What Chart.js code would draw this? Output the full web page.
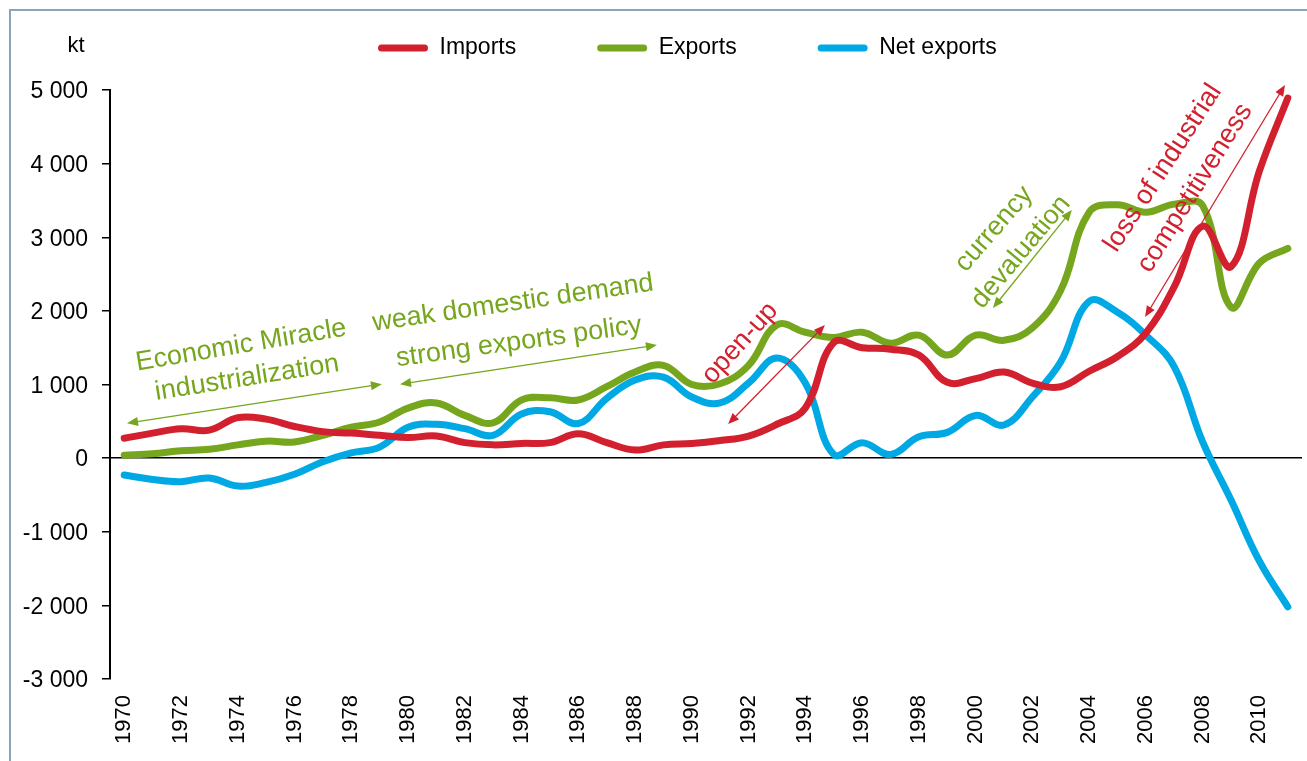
<!DOCTYPE html>
<html><head><meta charset="utf-8">
<script src="https://cdn.jsdelivr.net/npm/chart.js@4.4.1/dist/chart.umd.min.js"></script>
<style>html,body{margin:0;padding:0;background:#fff;overflow:hidden}#wrap{width:1307px;height:761px;position:relative}</style>
</head><body><div id="wrap"><canvas id="c"></canvas></div>
<script>
const years = ['1970','1971','1972','1973','1974','1975','1976','1977','1978','1979','1980','1981','1982','1983','1984','1985','1986','1987','1988','1989','1990','1991','1992','1993','1994','1995','1996','1997','1998','1999','2000','2001','2002','2003','2004','2005','2006','2007','2008','2009','2010','2011'];
const imports = [270,340,400,380,550,530,430,360,340,310,280,300,210,180,200,210,330,210,110,180,200,240,300,460,680,1570,1500,1480,1400,1030,1080,1170,1020,970,1180,1380,1700,2330,3150,2600,3900,4890];
const exportsV = [40,60,100,120,180,230,220,310,420,490,680,750,580,480,790,820,790,970,1170,1260,1000,1010,1260,1810,1710,1640,1710,1560,1670,1400,1670,1600,1770,2280,3340,3440,3340,3450,3430,2050,2650,2850];
const netExports = [-230,-290,-320,-270,-380,-330,-220,-50,70,150,420,460,400,310,600,630,470,810,1060,1100,830,750,1020,1360,1020,50,210,50,290,350,580,450,830,1310,2130,1980,1670,1240,220,-570,-1400,-2020];
const seriesNames = ['Imports','Exports','Net exports'];
const seriesColors = ['#D2202E','#76A61D','#00A9E4'];
const yTicks = [-3000,-2000,-1000,0,1000,2000,3000,4000,5000];
const unitLabel = 'kt';
// annotations in data space: [categoryIndex, value]
const annoTexts = [
  {text:'Economic Miracle', at:[4.12,1530], angle:-9.5, color:'#76A61D'},
  {text:'industrialization', at:[4.33,1087], angle:-9, color:'#76A61D'},
  {text:'weak domestic demand', at:[13.7,2105], angle:-8.2, color:'#76A61D'},
  {text:'strong exports policy', at:[13.91,1576], angle:-7.8, color:'#76A61D'},
  {text:'open-up', at:[21.7,1562], angle:-48, color:'#D2202E'},
  {text:'currency', at:[30.65,3111], angle:-49, color:'#76A61D'},
  {text:'devaluation', at:[31.6,2799], angle:-50, color:'#76A61D'},
  {text:'loss of industrial', at:[36.6,3940], angle:-57, color:'#D2202E'},
  {text:'competitiveness', at:[37.73,3668], angle:-58, color:'#D2202E'}
];
const annoArrows = [
  {from:[0.10,475], to:[9.08,1005], color:'#76A61D'},
  {from:[9.72,1005], to:[18.77,1535], color:'#76A61D'},
  {from:[21.28,462], to:[24.69,1807], color:'#D2202E'},
  {from:[30.61,2038], to:[33.39,3370], color:'#76A61D'},
  {from:[35.97,1916], to:[40.9,5068], color:'#D2202E'}
];

const FONT = "'Liberation Sans', Arial, sans-serif";
const LEGEND_START_X = 378;

function fmt(v){
  const a = Math.abs(v);
  const s = String(a).replace(/\B(?=(\d{3})+(?!\d))/g,' ');
  return (v<0?'-':'') + s;
}

const decor = {
  id:'decor',
  beforeLayout(chart){
    const lg = chart.legend;
    if (lg && !lg._patched){
      const orig = lg.fit.bind(lg);
      lg.fit = function(){ orig(); this.height = 134.5; };
      lg._patched = true;
    }
  },
  afterLayout(chart){
    const lg = chart.legend;
    if (lg){
      const pad = lg.options.labels.padding;
      const w = lg.width;
      lg.left = LEGEND_START_X - pad;
      lg.right = lg.left + w;
    }
  },
  beforeDraw(chart){
    const ctx = chart.ctx;
    ctx.save();
    ctx.fillStyle = '#fff';
    ctx.fillRect(0,0,chart.width,chart.height);
    ctx.strokeStyle = '#8AA4BA';
    ctx.lineWidth = 2;
    ctx.strokeRect(10,10,chart.width+50,chart.height+50);
    ctx.restore();
  },
  afterDatasetsDraw(chart){
    const ctx = chart.ctx, xs = chart.scales.x, ys = chart.scales.y;
    ctx.save();
    ctx.font = '27px ' + FONT;
    ctx.textAlign = 'center';
    ctx.textBaseline = 'middle';
    annoTexts.forEach(a=>{
      const x = xs.getPixelForValue(a.at[0]), y = ys.getPixelForValue(a.at[1]);
      ctx.save();
      ctx.translate(x,y);
      ctx.rotate(a.angle*Math.PI/180);
      ctx.fillStyle = a.color;
      ctx.fillText(a.text,0,0);
      ctx.restore();
    });
    annoArrows.forEach(a=>{
      const x1 = xs.getPixelForValue(a.from[0]), y1 = ys.getPixelForValue(a.from[1]);
      const x2 = xs.getPixelForValue(a.to[0]), y2 = ys.getPixelForValue(a.to[1]);
      const ang = Math.atan2(y2-y1,x2-x1);
      const L = 11, W = 4.5;
      ctx.strokeStyle = a.color; ctx.fillStyle = a.color; ctx.lineWidth = 1.3;
      ctx.beginPath();
      ctx.moveTo(x1+Math.cos(ang)*L*0.8, y1+Math.sin(ang)*L*0.8);
      ctx.lineTo(x2-Math.cos(ang)*L*0.8, y2-Math.sin(ang)*L*0.8);
      ctx.stroke();
      [[x1,y1,ang+Math.PI],[x2,y2,ang]].forEach(([px,py,t])=>{
        ctx.beginPath();
        ctx.moveTo(px,py);
        ctx.lineTo(px-Math.cos(t)*L - Math.sin(t)*W, py-Math.sin(t)*L + Math.cos(t)*W);
        ctx.lineTo(px-Math.cos(t)*L + Math.sin(t)*W, py-Math.sin(t)*L - Math.cos(t)*W);
        ctx.closePath();
        ctx.fill();
      });
    });
    ctx.restore();
  },
  afterDraw(chart){
    const ctx = chart.ctx;
    ctx.save();
    ctx.font = '22px ' + FONT;
    ctx.fillStyle = '#000';
    ctx.textAlign = 'center';
    ctx.textBaseline = 'middle';
    ctx.fillText(unitLabel, 76, 46);
    ctx.restore();
  }
};

const values = [imports, exportsV, netExports];
new Chart(document.getElementById('c'), {
  type:'line',
  data:{
    labels: years,
    datasets: seriesNames.map((n,i)=>({
      label:n, data:values[i], borderColor:seriesColors[i], backgroundColor:seriesColors[i],
      borderWidth:7, pointRadius:0, pointHoverRadius:0, tension:0.4, fill:false,
      borderCapStyle:'round', borderJoinStyle:'round', clip:false
    }))
  },
  options:{
    responsive:true, maintainAspectRatio:false, animation:false,
    layout:{padding:{top:-44.5,left:0,right:5,bottom:0}},
    plugins:{
      tooltip:{enabled:false},
      legend:{
        position:'top', align:'start',
        labels:{
          boxWidth:50, boxHeight:7, useBorderRadius:true, borderRadius:3.5,
          padding:81, color:'#000', font:{family:FONT, size:23},
          generateLabels(chart){
            return Chart.defaults.plugins.legend.labels.generateLabels(chart).map(l=>({...l, lineWidth:0}));
          }
        }
      }
    },
    scales:{
      x:{
        offset:true,
        grid:{display:false, drawTicks:false},
        border:{display:false},
        ticks:{
          autoSkip:false, maxRotation:90, minRotation:90, padding:16,
          color:'#000', font:{family:FONT, size:22},
          callback(v, idx){ return idx % 2 === 0 ? years[idx] : ''; }
        },
        afterFit(s){ s.height = 82; s.paddingLeft = 0; s.paddingRight = 0; }
      },
      y:{
        min:-3000, max:5000,
        afterBuildTicks(s){ s.ticks = yTicks.map(v=>({value:v})); },
        grid:{
          color(c){ return c.tick && c.tick.value === 0 ? '#000' : 'rgba(0,0,0,0)'; },
          lineWidth:1.5, tickColor:'#000', tickLength:8, tickWidth:1.5, drawTicks:true
        },
        border:{display:true, color:'#000', width:2},
        ticks:{ padding:14, labelOffset:2, color:'#000', font:{family:FONT, size:23}, callback(v){ return fmt(v); } },
        afterFit(s){ s.width = 110; }
      }
    }
  },
  plugins:[decor]
});
</script></body></html>
